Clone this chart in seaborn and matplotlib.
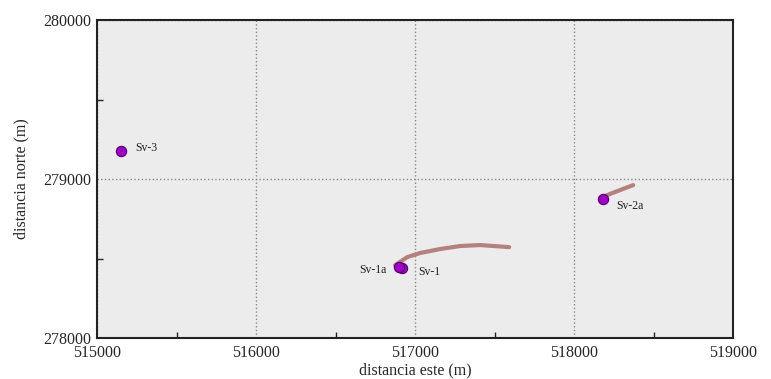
import matplotlib
matplotlib.use("Agg")
import matplotlib.pyplot as plt
import seaborn as sns
import pandas as pd
import numpy as np
from matplotlib.ticker import MultipleLocator

# pozos (posición en superficie)
pozos = ["Sv-3", "Sv-1", "Sv-1a", "Sv-2a"]
pozo_este = [515150, 516915, 516900, 518180]
pozo_norte = [279175, 278440, 278445, 278875]

# trayectorias proyectadas
tray_1a_este = [516874, 516950, 517031, 517157, 517283, 517409, 517591]
tray_1a_norte = [278459, 278509, 278535, 278560, 278579, 278585, 278572]
tray_2a_este = [518164, 518239, 518371]
tray_2a_norte = [278881, 278912, 278962]

sns.set_style("ticks")
plt.rcParams['font.family'] = ['Liberation Serif', 'DejaVu Serif']

df_pozos = pd.DataFrame({"pozo": pozos, "este": pozo_este, "norte": pozo_norte})
df_tray = pd.concat([
    pd.DataFrame({"pozo": "Sv-1a", "este": tray_1a_este, "norte": tray_1a_norte}),
    pd.DataFrame({"pozo": "Sv-2a", "este": tray_2a_este, "norte": tray_2a_norte}),
])

fig, ax = plt.subplots(figsize=(7.71, 3.79), dpi=100)
fig.subplots_adjust(left=0.126, right=0.951, top=0.947, bottom=0.108)
ax.set_facecolor('#ececec')

sns.lineplot(data=df_tray, x="este", y="norte", units="pozo", estimator=None,
             sort=False, color='#b58080', linewidth=3, ax=ax, zorder=3)
sns.scatterplot(data=df_pozos, x="este", y="norte", color='#a000c8',
                edgecolor='#50006a', linewidth=0.8, s=55, ax=ax, zorder=4)

# etiquetas de pozos
offsets = {"Sv-3": (10, 2, 'left'), "Sv-1": (12, -3, 'left'),
           "Sv-1a": (-9, -2, 'right'), "Sv-2a": (10, -5, 'left')}
for p, e, n in zip(pozos, pozo_este, pozo_norte):
    dx, dy, ha = offsets[p]
    ax.annotate(p, (e, n), xytext=(dx, dy), textcoords='offset points',
                ha=ha, va='center', fontsize=8.5, color='#222222')

ax.set_xlim(515000, 519000)
ax.set_ylim(278000, 280000)
ax.xaxis.set_major_locator(MultipleLocator(1000))
ax.yaxis.set_major_locator(MultipleLocator(1000))
ax.xaxis.set_minor_locator(MultipleLocator(500))
ax.yaxis.set_minor_locator(MultipleLocator(500))
ax.tick_params(which='both', direction='in', top=False, right=False)
ax.tick_params(which='major', length=0, labelsize=11.5, pad=4)
ax.tick_params(axis='x', which='major', pad=5)
ax.tick_params(which='minor', length=4, width=1)
ax.grid(True, which='major', linestyle=':', color='#888888', linewidth=1)
for s in ax.spines.values():
    s.set_linewidth(1.5)
    s.set_color('#222222')

ax.set_xlabel("distancia este (m)", fontsize=11.5, labelpad=1)
ax.set_ylabel("distancia norte (m)", fontsize=11.5, labelpad=10)

plt.savefig("out.png", dpi=100)
